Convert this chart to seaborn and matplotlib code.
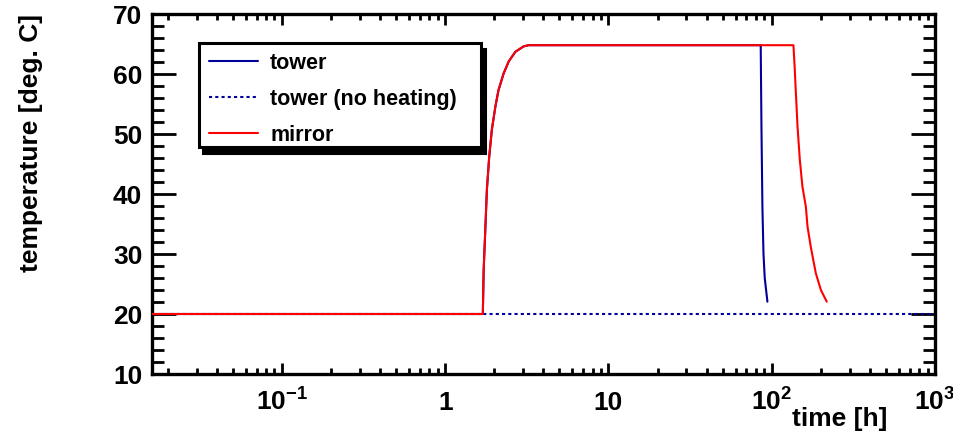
import numpy as np
import pandas as pd
import matplotlib
matplotlib.use("Agg")
import matplotlib.pyplot as plt
import matplotlib.ticker as mticker
from matplotlib.patches import Rectangle
from matplotlib.transforms import offset_copy
from matplotlib.lines import Line2D
import seaborn as sns

# ---------------- data ----------------
mirror_t = [0.016, 1.70, 1.72, 1.76, 1.80, 1.86, 1.93, 2.03, 2.12, 2.28, 2.45, 2.69, 3.02, 3.24,
            135.8, 138.3, 140.3, 143.9, 148.6, 154.2, 161.8, 165.6, 173.4, 186.2, 200.0, 217.3]
mirror_T = [20.0, 20.0, 27.3, 34.0, 40.7, 46.2, 50.7, 54.6, 57.3, 60.1, 62.1, 63.7, 64.6, 64.8,
            64.8, 60.9, 57.3, 51.2, 45.7, 41.2, 37.9, 34.6, 31.2, 26.8, 24.0, 22.05]

tower_t = [0.016, 1.70, 1.72, 1.76, 1.80, 1.86, 1.93, 2.03, 2.12, 2.28, 2.45, 2.69, 3.02, 3.24,
           85.6, 86.5, 87.7, 89.0, 90.6, 94.1]
tower_T = [20.0, 20.0, 27.3, 34.0, 40.7, 46.2, 50.7, 54.6, 57.3, 60.1, 62.1, 63.7, 64.6, 64.8,
           64.8, 51.2, 37.7, 30.1, 26.0, 22.05]

noheat_t = [0.016, 1000.0]
noheat_T = [20.0, 20.0]

floor_t = [0.016, 1000.0]
floor_T = [10.0, 10.0]

series_names = ["tower", "tower (no heating)", "mirror"]
series_colors = ["#000099", "#000099", "#ff0000"]

x_major = [0.1, 1, 10, 100, 1000]
x_labels = [r"$\mathbf{10^{-1}}$", "1", "10", r"$\mathbf{10^{2}}$", r"$\mathbf{10^{3}}$"]
y_major = [10, 20, 30, 40, 50, 60, 70]

# ---------------- style ----------------
sns.set_theme(style="ticks")
plt.rcParams["font.family"] = ["Liberation Sans", "DejaVu Sans"]
plt.rcParams["font.weight"] = "bold"
plt.rcParams["axes.labelweight"] = "bold"
plt.rcParams["text.color"] = "black"
plt.rcParams["axes.labelcolor"] = "black"
plt.rcParams["mathtext.fontset"] = "custom"
plt.rcParams["mathtext.bf"] = "Liberation Sans:bold"
plt.rcParams["mathtext.rm"] = "Liberation Sans:bold"
plt.rcParams["mathtext.it"] = "Liberation Sans:bold:italic"

fig = plt.figure(figsize=(9.54, 4.33), dpi=100)
ax = fig.add_axes([152 / 954, 59 / 433, 783 / 954, 360 / 433])

df_tower = pd.DataFrame({"t": tower_t, "T": tower_T})
df_noheat = pd.DataFrame({"t": noheat_t, "T": noheat_T})
df_mirror = pd.DataFrame({"t": mirror_t, "T": mirror_T})
df_floor = pd.DataFrame({"t": floor_t, "T": floor_T})

lw = 1.5
sns.lineplot(data=df_floor, x="t", y="T", ax=ax, color=series_colors[2], lw=1.2,
             estimator=None, sort=False, zorder=1)
sns.lineplot(data=df_tower, x="t", y="T", ax=ax, color=series_colors[0], lw=lw,
             estimator=None, sort=False, zorder=2)
sns.lineplot(data=df_noheat, x="t", y="T", ax=ax, color=series_colors[1], lw=lw,
             linestyle=(0, (1.5, 1.5)), estimator=None, sort=False, zorder=2)
sns.lineplot(data=df_mirror, x="t", y="T", ax=ax, color=series_colors[2], lw=lw,
             estimator=None, sort=False, zorder=3)

ax.set_xscale("log")
ax.set_xlim(0.016, 1000)
ax.set_ylim(10, 70)

ax.xaxis.set_major_locator(mticker.FixedLocator(x_major))
ax.xaxis.set_major_formatter(mticker.FixedFormatter(x_labels))
ax.xaxis.set_minor_locator(mticker.LogLocator(base=10, subs=np.arange(2, 10), numticks=20))
ax.xaxis.set_minor_formatter(mticker.NullFormatter())
ax.yaxis.set_major_locator(mticker.FixedLocator(y_major))
ax.yaxis.set_minor_locator(mticker.MultipleLocator(2))

for s in ax.spines.values():
    s.set_linewidth(2.4)
    s.set_color("black")

ax.tick_params(which="both", direction="in", top=True, right=True, colors="black", width=2.0)
ax.tick_params(axis="x", which="major", length=8, labelsize=19, pad=26)
ax.tick_params(axis="x", which="minor", length=4.3)
ax.tick_params(axis="y", which="major", length=17.3, labelsize=19, pad=7)
ax.tick_params(axis="y", which="minor", length=8.6)
for lab in ax.get_xticklabels():
    lab.set_verticalalignment("baseline")
    lab.set_fontweight("bold")
for lab in ax.get_yticklabels():
    lab.set_fontweight("bold")

ax.set_xlabel("time [h]", fontsize=19, fontweight="bold", ha="right", va="baseline")
ax.xaxis.set_label_coords((887 - 152) / 783, (374 - 426) / 360)
ax.set_ylabel("temperature [deg. C]", fontsize=19, fontweight="bold", ha="right", va="center")
ax.yaxis.set_label_coords((31 - 152) / 783, 1.0)

# legend box with shadow
bx0, bx1 = (199 - 152) / 783, (481 - 152) / 783
by1, by0 = (374 - 43) / 360, (374 - 147) / 360
shadow_tr = offset_copy(ax.transAxes, fig=fig, x=4, y=-6, units="dots")
ax.add_patch(Rectangle((bx0, by0), bx1 - bx0, by1 - by0, transform=shadow_tr,
                       facecolor="black", edgecolor="black", lw=2.2, clip_on=False, zorder=8))
ax.add_patch(Rectangle((bx0, by0), bx1 - bx0, by1 - by0, transform=ax.transAxes,
                       facecolor="white", edgecolor="black", lw=2.2, clip_on=False, zorder=9))

handles = [
    Line2D([], [], color=series_colors[0], lw=lw),
    Line2D([], [], color=series_colors[1], lw=lw, linestyle=(0, (1.5, 1.5))),
    Line2D([], [], color=series_colors[2], lw=lw),
]
leg = ax.legend(handles, series_names, loc="upper left",
                bbox_to_anchor=((209 - 152) / 783, (374 - 53) / 360),
                frameon=False, borderpad=0, borderaxespad=0,
                handlelength=2.28, handletextpad=0.56, labelspacing=0.69,
                prop={"family": "Liberation Sans", "weight": "bold", "size": 15.5})
leg.set_zorder(10)
for txt in leg.get_texts():
    txt.set_color("black")

fig.savefig("out.png", dpi=100)
